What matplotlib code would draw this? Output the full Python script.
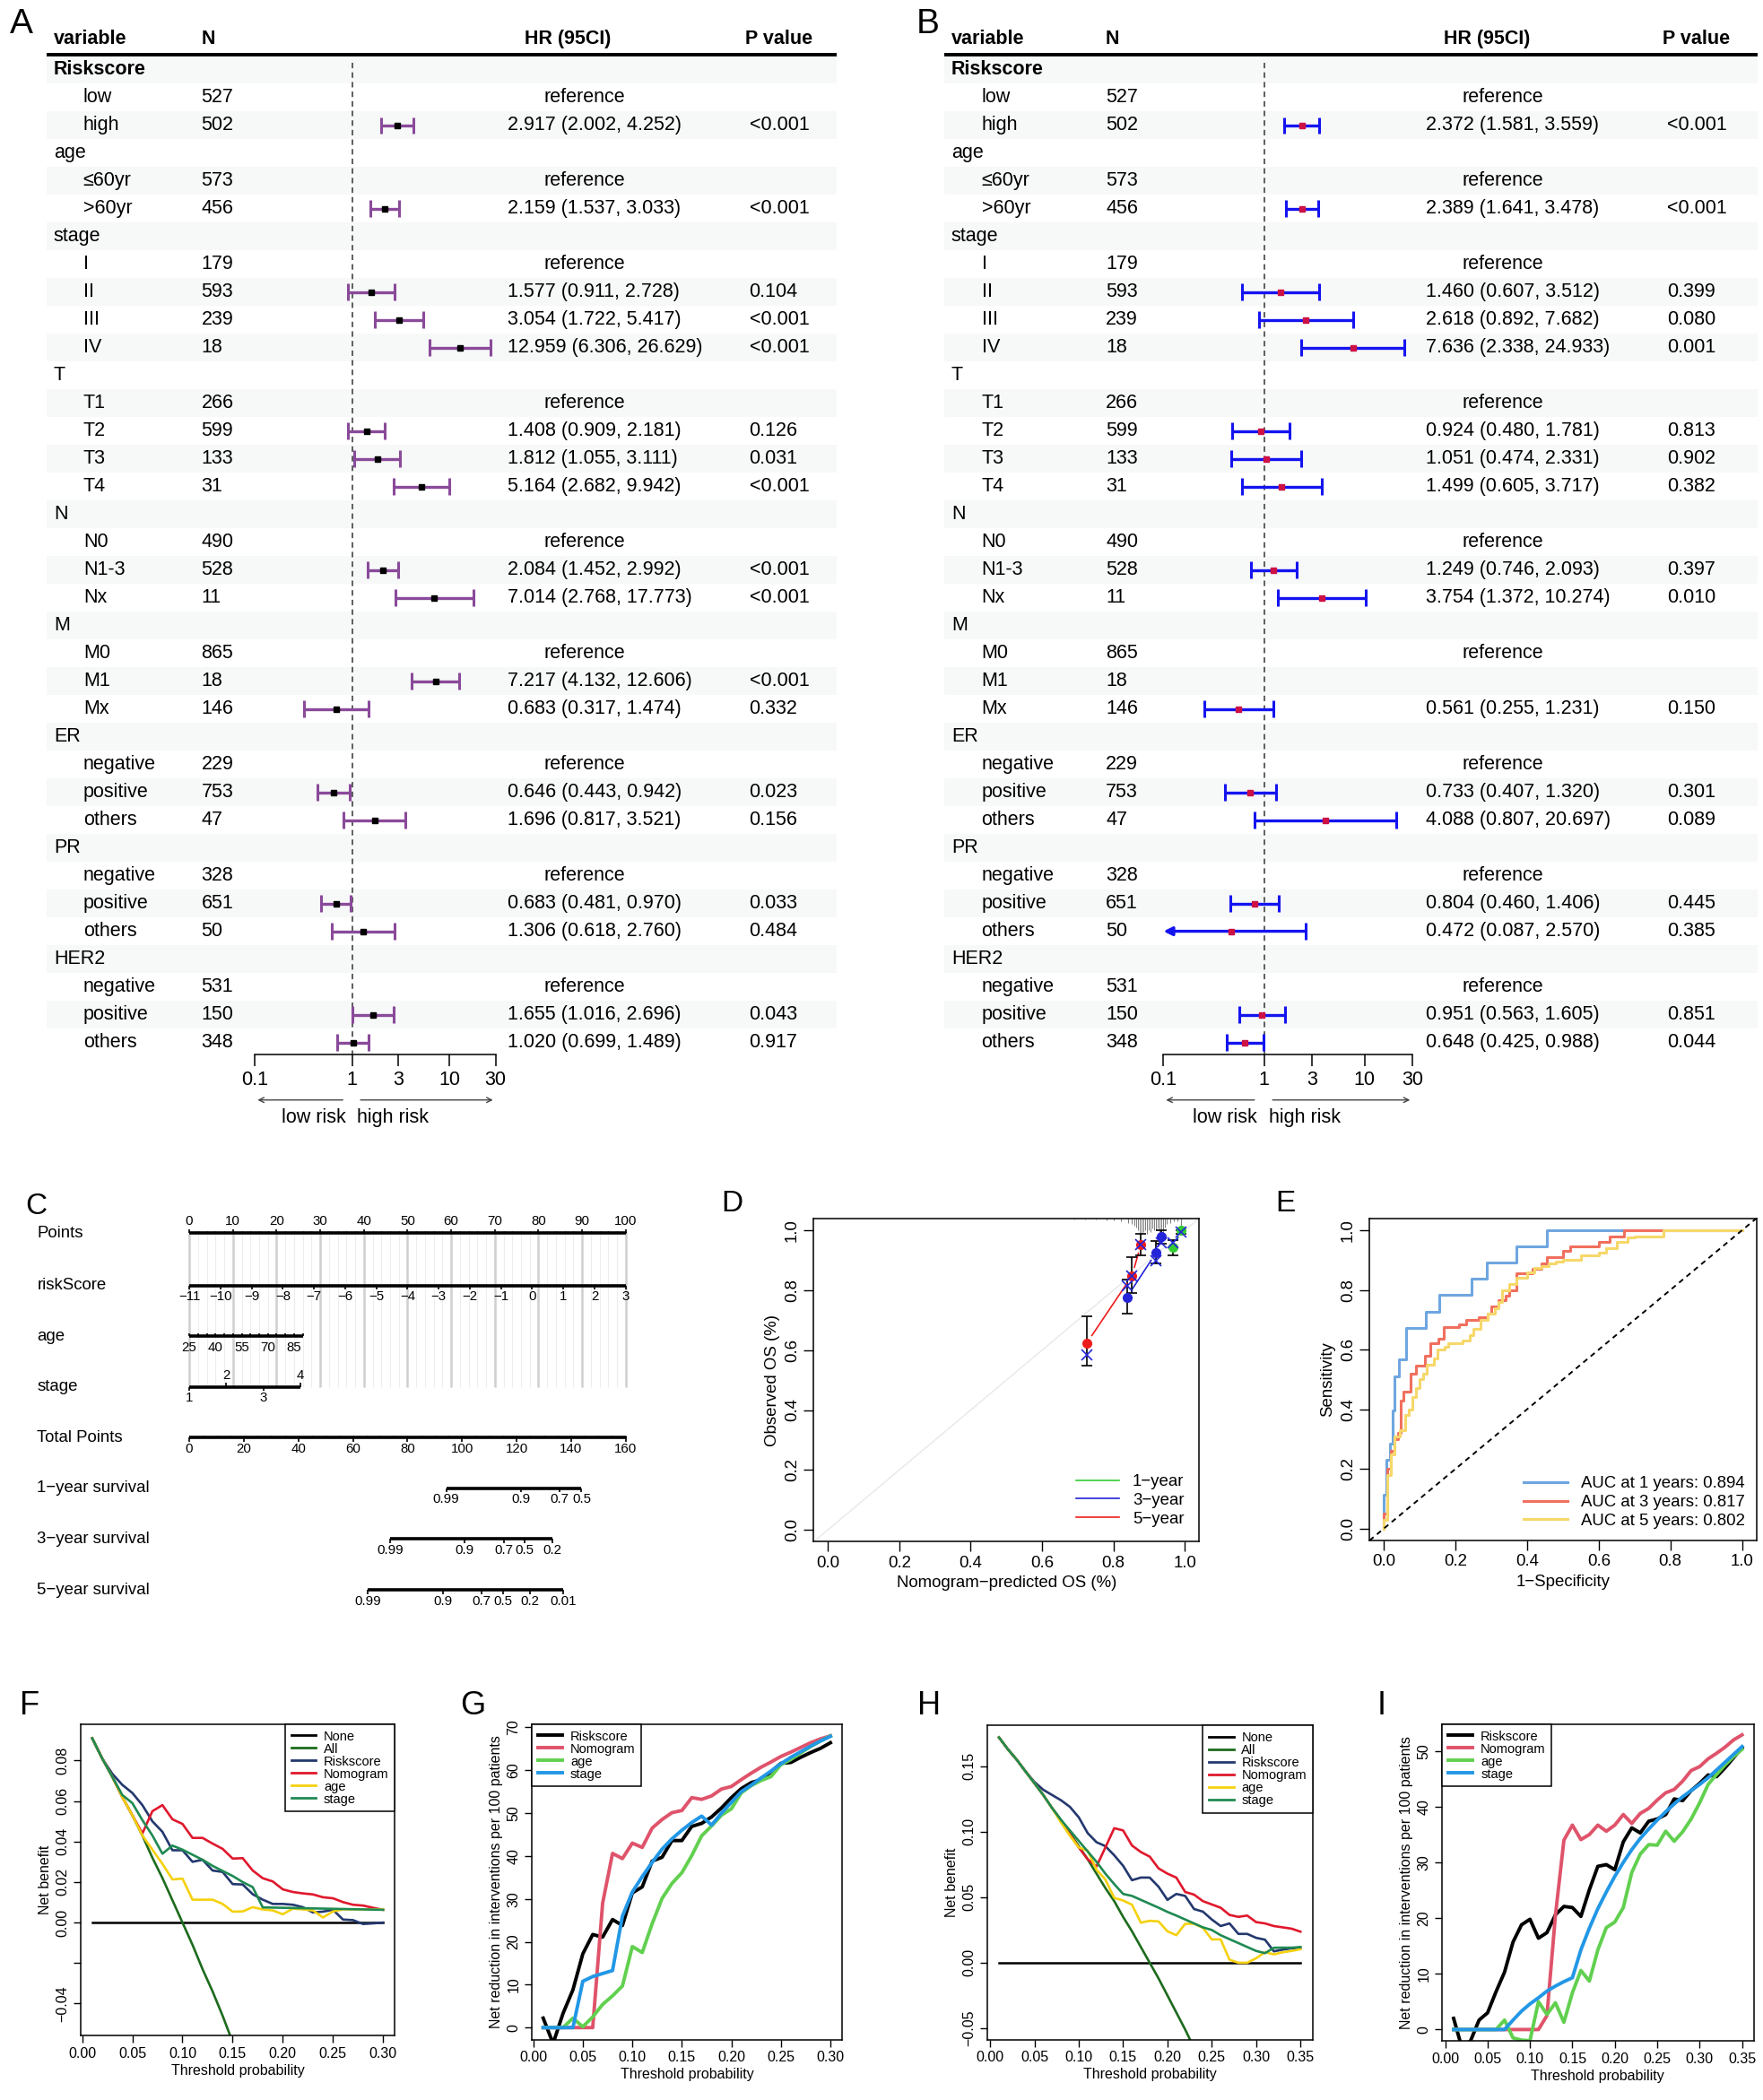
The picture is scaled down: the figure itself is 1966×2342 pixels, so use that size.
import numpy as np
import matplotlib
matplotlib.use("Agg")
import matplotlib.pyplot as plt
from matplotlib import font_manager
from matplotlib.ticker import NullLocator
from matplotlib.transforms import blended_transform_factory
from matplotlib.lines import Line2D

plt.rcParams["font.family"] = ["Liberation Sans", "DejaVu Sans"]
plt.rcParams["axes.unicode_minus"] = True

_names = {f.name for f in font_manager.fontManager.ttflist}
NARROW = "Liberation Sans Narrow" if "Liberation Sans Narrow" in _names else "Liberation Sans"

# ---------------- forest tables (A, B) ----------------
row_names = ["Riskscore", "low", "high", "age", "≤60yr", ">60yr", "stage", "I", "II", "III", "IV",
             "T", "T1", "T2", "T3", "T4", "N", "N0", "N1-3", "Nx", "M", "M0", "M1", "Mx",
             "ER", "negative", "positive", "others", "PR", "negative", "positive", "others",
             "HER2", "negative", "positive", "others"]
group_rows = [0, 3, 6, 11, 16, 20, 24, 28, 32]
ref_rows = [1, 4, 7, 12, 17, 21, 25, 29, 33]
n_patients = ["", "527", "502", "", "573", "456", "", "179", "593", "239", "18",
              "", "266", "599", "133", "31", "", "490", "528", "11", "", "865", "18", "146",
              "", "229", "753", "47", "", "328", "651", "50", "", "531", "150", "348"]
value_rows = [2, 5, 8, 9, 10, 13, 14, 15, 18, 19, 22, 23, 26, 27, 30, 31, 34, 35]

hr_a = [2.917, 2.159, 1.577, 3.054, 12.959, 1.408, 1.812, 5.164, 2.084, 7.014, 7.217, 0.683,
        0.646, 1.696, 0.683, 1.306, 1.655, 1.020]
lo_a = [2.002, 1.537, 0.911, 1.722, 6.306, 0.909, 1.055, 2.682, 1.452, 2.768, 4.132, 0.317,
        0.443, 0.817, 0.481, 0.618, 1.016, 0.699]
hi_a = [4.252, 3.033, 2.728, 5.417, 26.629, 2.181, 3.111, 9.942, 2.992, 17.773, 12.606, 1.474,
        0.942, 3.521, 0.970, 2.760, 2.696, 1.489]
p_a = ["<0.001", "<0.001", "0.104", "<0.001", "<0.001", "0.126", "0.031", "<0.001", "<0.001",
       "<0.001", "<0.001", "0.332", "0.023", "0.156", "0.033", "0.484", "0.043", "0.917"]

hr_b = [2.372, 2.389, 1.460, 2.618, 7.636, 0.924, 1.051, 1.499, 1.249, 3.754, np.nan, 0.561,
        0.733, 4.088, 0.804, 0.472, 0.951, 0.648]
lo_b = [1.581, 1.641, 0.607, 0.892, 2.338, 0.480, 0.474, 0.605, 0.746, 1.372, np.nan, 0.255,
        0.407, 0.807, 0.460, 0.087, 0.563, 0.425]
hi_b = [3.559, 3.478, 3.512, 7.682, 24.933, 1.781, 2.331, 3.717, 2.093, 10.274, np.nan, 1.231,
        1.320, 20.697, 1.406, 2.570, 1.605, 0.988]
p_b = ["<0.001", "<0.001", "0.399", "0.080", "0.001", "0.813", "0.902", "0.382", "0.397",
       "0.010", "", "0.150", "0.301", "0.089", "0.445", "0.385", "0.851", "0.044"]

forest_ticks = [0.1, 1, 3, 10, 30]

# ---------------- nomogram (C) ----------------
points_ticks = list(range(0, 101, 10))
risk_ticks = list(range(-11, 4))
age_ticks = [25, 40, 55, 70, 85]
age_minor = list(range(25, 91, 5))
age_max_points = 26.0
stage_levels = ["1", "2", "3", "4"]
stage_points = [0.0, 8.5, 17.0, 25.5]
total_ticks = list(range(0, 161, 20))
surv_names = ["1\u2212year survival", "3\u2212year survival", "5\u2212year survival"]
surv_labels = [["0.99", "0.9", "0.7", "0.5"],
               ["0.99", "0.9", "0.7", "0.5", "0.2"],
               ["0.99", "0.9", "0.7", "0.5", "0.2", "0.01"]]
surv_total = [[94.2, 121.5, 135.7, 143.8],
              [73.6, 101.0, 115.3, 123.0, 133.2],
              [65.4, 93.1, 107.2, 114.9, 125.0, 137.2]]

# ---------------- calibration (D) ----------------
cal_names = ["1\u2212year", "3\u2212year", "5\u2212year"]
cal_colors = ["#33cc33", "#2424d8", "#ee1c1c"]
cal_pred = [[0.968, 0.990], [0.838, 0.920, 0.934], [0.725, 0.852, 0.877]]
cal_obs = [[0.945, 1.000], [0.777, 0.926, 0.980], [0.623, 0.848, 0.953]]
cal_lo = [[0.918, 0.990], [0.721, 0.889, 0.955], [0.547, 0.790, 0.918]]
cal_hi = [[0.968, 1.000], [0.835, 0.965, 1.000], [0.713, 0.910, 0.990]]
cal_corr = [[0.960, 0.995], [0.814, 0.900, 0.960], [0.585, 0.848, 0.953]]
rug_x = [0.69, 0.72, 0.75, 0.78, 0.80, 0.82, 0.84, 0.85, 0.86, 0.865, 0.87, 0.875, 0.88, 0.885,
         0.89, 0.895, 0.90, 0.905, 0.91, 0.915, 0.92, 0.925, 0.93, 0.935, 0.94, 0.945, 0.95,
         0.96, 0.97, 0.98, 0.99]
rug_len = [0.004, 0.005, 0.005, 0.006, 0.008, 0.010, 0.015, 0.020, 0.025, 0.030, 0.040, 0.048,
           0.050, 0.045, 0.040, 0.050, 0.040, 0.045, 0.035, 0.040, 0.040, 0.035, 0.060, 0.045,
           0.050, 0.030, 0.020, 0.015, 0.010, 0.010, 0.030]

# ---------------- ROC (E) ----------------
roc_labels = ["AUC at 1 years: 0.894", "AUC at 3 years: 0.817", "AUC at 5 years: 0.802"]
roc_colors = ["#6fa6e0", "#f0705e", "#f6d86a"]
fpr_1 = [0, 0, 0.006, 0.006, 0.017, 0.017, 0.025, 0.025, 0.030, 0.030, 0.042, 0.042, 0.061, 0.061,
         0.117, 0.117, 0.154, 0.154, 0.244, 0.244, 0.287, 0.287, 0.370, 0.370, 0.456, 0.456, 1.0]
tpr_1 = [0, 0.113, 0.113, 0.231, 0.231, 0.284, 0.284, 0.397, 0.397, 0.510, 0.510, 0.566, 0.566,
         0.672, 0.672, 0.726, 0.726, 0.783, 0.783, 0.837, 0.837, 0.893, 0.893, 0.947, 0.947, 1.0, 1.0]
fpr_3 = [0, 0.010, 0.020, 0.030, 0.040, 0.047, 0.054, 0.074, 0.090, 0.114, 0.130, 0.153, 0.168,
         0.187, 0.210, 0.230, 0.265, 0.290, 0.300, 0.320, 0.340, 0.350, 0.370, 0.395, 0.415, 0.440,
         0.455, 0.475, 0.500, 0.520, 0.540, 0.600, 0.630, 0.670, 0.690, 0.770, 1.0]
tpr_3 = [0, 0.050, 0.200, 0.260, 0.300, 0.320, 0.430, 0.460, 0.520, 0.545, 0.580, 0.620, 0.635,
         0.675, 0.675, 0.686, 0.700, 0.710, 0.720, 0.745, 0.765, 0.780, 0.800, 0.855, 0.855, 0.870,
         0.890, 0.910, 0.910, 0.930, 0.946, 0.946, 0.960, 0.980, 1.0, 1.0, 1.0]
fpr_5 = [0, 0.010, 0.020, 0.030, 0.045, 0.060, 0.070, 0.080, 0.090, 0.100, 0.110, 0.120, 0.140,
         0.150, 0.170, 0.180, 0.220, 0.240, 0.250, 0.270, 0.290, 0.310, 0.320, 0.330, 0.350, 0.370,
         0.400, 0.420, 0.440, 0.460, 0.480, 0.500, 0.550, 0.600, 0.620, 0.650, 0.680, 0.700, 0.780,
         0.780, 1.0]
tpr_5 = [0, 0.030, 0.180, 0.250, 0.310, 0.330, 0.380, 0.400, 0.440, 0.470, 0.500, 0.520, 0.550,
         0.570, 0.600, 0.610, 0.620, 0.630, 0.650, 0.670, 0.700, 0.720, 0.740, 0.760, 0.800, 0.820,
         0.840, 0.860, 0.875, 0.880, 0.890, 0.895, 0.900, 0.915, 0.925, 0.940, 0.960, 0.975, 0.980,
         1.0, 1.0]

# ---------------- decision curves (F, H) ----------------
dca_names = ["None", "All", "Riskscore", "Nomogram", "age", "stage"]
dca_colors = ["black", "#1d6b1d", "#23386e", "#e0182d", "#f5d10f", "#1f8a52"]
thr_f = np.round(np.arange(0.01, 0.301, 0.01), 2)
f_all = [0.091, 0.081, 0.072, 0.062, 0.053, 0.043, 0.032, 0.022, 0.011, 0.000, -0.011, -0.023,
         -0.034, -0.046, -0.059]
f_risk = [0.091, 0.081, 0.0735, 0.068, 0.064, 0.058, 0.050, 0.0448, 0.0357, 0.0357, 0.030, 0.031,
          0.0257, 0.025, 0.019, 0.0188, 0.014, 0.0113, 0.0092, 0.0092, 0.0088, 0.0076, 0.005,
          0.0054, 0.0063, 0.0015, 0.0012, -0.0007, -0.0004, 0.0]
f_nomo = [0.091, 0.081, 0.072, 0.062, 0.053, 0.044, 0.055, 0.058, 0.051, 0.0487, 0.0418, 0.0418,
          0.039, 0.0364, 0.0316, 0.0318, 0.0257, 0.0219, 0.0203, 0.0164, 0.0151, 0.0144, 0.0139,
          0.0125, 0.012, 0.0101, 0.0088, 0.0084, 0.0073, 0.0063]
f_age = [0.091, 0.081, 0.072, 0.062, 0.053, 0.043, 0.036, 0.029, 0.0213, 0.0217, 0.0113, 0.0113,
         0.0113, 0.0092, 0.0054, 0.0055, 0.0076, 0.0065, 0.006, 0.0041, 0.0069, 0.0065, 0.006,
         0.0025, 0.0055, 0.0065, 0.0065, 0.0065, 0.0065, 0.0065]
f_stage = [0.091, 0.081, 0.072, 0.063, 0.059, 0.0506, 0.043, 0.034, 0.038, 0.036, 0.0335, 0.031,
           0.028, 0.0255, 0.023, 0.020, 0.0175, 0.0075, 0.0074, 0.0073, 0.0072, 0.0071, 0.0070,
           0.0069, 0.0068, 0.0067, 0.0066, 0.0065, 0.0064, 0.0063]

thr_h = np.round(np.arange(0.01, 0.351, 0.01), 2)
h_all = [0.172, 0.163, 0.155, 0.146, 0.137, 0.128, 0.118, 0.109, 0.099, 0.089, 0.079, 0.068, 0.057,
         0.047, 0.035, 0.024, 0.012, 0.000, -0.012, -0.025, -0.038, -0.051, -0.065]
h_risk = [0.172, 0.163, 0.155, 0.146, 0.138, 0.132, 0.128, 0.124, 0.119, 0.111, 0.099, 0.092,
          0.089, 0.082, 0.074, 0.063, 0.065, 0.065, 0.058, 0.048, 0.0525, 0.051, 0.041, 0.039,
          0.033, 0.028, 0.030, 0.022, 0.022, 0.019, 0.0176, 0.0087, 0.010, 0.011, 0.0114]
h_nomo = [0.172, 0.163, 0.155, 0.146, 0.137, 0.128, 0.118, 0.108, 0.098, 0.088, 0.079, 0.0735,
          0.088, 0.1027, 0.101, 0.0895, 0.0845, 0.081, 0.072, 0.068, 0.065, 0.054, 0.052, 0.047,
          0.0445, 0.042, 0.0365, 0.035, 0.036, 0.031, 0.030, 0.028, 0.027, 0.026, 0.0237]
h_age = [0.172, 0.163, 0.155, 0.146, 0.137, 0.128, 0.118, 0.107, 0.097, 0.088, 0.0856, 0.071,
         0.0635, 0.0495, 0.0475, 0.0443, 0.0306, 0.032, 0.0315, 0.024, 0.021, 0.0297, 0.0297,
         0.0267, 0.0178, 0.0178, 0.0023, 0.0, 0.0, 0.0034, 0.008, 0.0064, 0.008, 0.009, 0.0103]
h_stage = [0.172, 0.163, 0.155, 0.146, 0.137, 0.128, 0.118, 0.109, 0.101, 0.093, 0.085, 0.077,
           0.068, 0.060, 0.0525, 0.051, 0.048, 0.045, 0.042, 0.0388, 0.036, 0.033, 0.030, 0.027,
           0.025, 0.021, 0.018, 0.015, 0.012, 0.009, 0.0073, 0.0114, 0.0115, 0.0115, 0.012]

# ---------------- clinical impact (G, I) ----------------
cic_names = ["Riskscore", "Nomogram", "age", "stage"]
cic_colors = ["black", "#df536b", "#61d04f", "#2297e6"]
g_risk = [2.2, -3.7, 3.3, 8.8, 17.2, 21.7, 21.1, 25.2, 23.8, 31.4, 32.8, 38.8, 39.7, 43.6, 43.6,
          46.9, 47.6, 49.1, 51.2, 53.6, 55.7, 57.1, 57.8, 59.6, 61.6, 61.8, 63.0, 64.1, 65.1, 66.4]
g_nomo = [0, 0, 0, 0, 0, 0, 29.0, 40.6, 39.4, 43.0, 42.0, 46.5, 48.5, 50.1, 50.6, 53.6, 53.2, 54.0,
          55.6, 56.2, 57.8, 59.3, 60.7, 61.9, 63.2, 64.2, 65.3, 66.4, 67.3, 68.0]
g_age = [0, 0, 0, 2.2, 0.2, 2.5, 5.4, 7.4, 9.7, 18.9, 17.5, 24.2, 30.1, 33.6, 36.1, 40.1, 44.7,
         47.0, 49.5, 51.0, 54.7, 56.4, 57.6, 58.5, 61.3, 62.5, 64.0, 65.5, 66.8, 68.0]
g_stage = [0, 0, 0, 0, 10.8, 11.9, 12.6, 13.3, 26.0, 31.6, 35.2, 38.5, 41.6, 44.0, 46.0, 47.8,
           49.3, 47.2, 50.0, 52.5, 55.0, 56.5, 58.2, 59.8, 61.5, 63.0, 64.3, 65.6, 66.8, 67.9]
i_risk = [2.0, -3.4, -2.0, 1.7, 3.0, 6.8, 10.3, 15.7, 18.8, 19.8, 16.4, 17.4, 20.6, 22.1, 21.9,
          20.3, 25.1, 29.3, 29.6, 28.7, 33.7, 36.2, 35.3, 37.4, 37.8, 38.6, 41.4, 41.1, 42.9, 44.2,
          45.7, 45.4, 47.0, 48.8, 50.6]
i_nomo = [0, 0, 0, 0, 0, 0, 0, 0, 0, 0, 0, 2.5, 20.5, 34.0, 36.7, 34.1, 35.0, 36.7, 35.6, 36.7,
          38.6, 37.0, 38.8, 39.7, 41.2, 42.5, 43.1, 44.6, 46.5, 47.2, 48.6, 49.6, 50.7, 52.0, 52.9]
i_age = [0, 0, 0, 0, 0, 0, 1.7, -1.5, -1.9, -2.0, 5.0, 2.7, 4.8, 1.3, 6.6, 10.6, 8.7, 14.3, 18.3,
         19.3, 21.9, 28.2, 31.5, 33.2, 33.1, 35.6, 33.8, 35.5, 37.8, 40.7, 44.0, 45.8, 47.5, 49.0,
         50.3]
i_stage = [0, 0, 0, 0, 0, 0, 0, 1.7, 3.3, 4.6, 5.7, 6.9, 7.8, 8.6, 9.3, 14.3, 18.2, 21.7, 24.7,
           27.5, 30.0, 32.3, 34.3, 36.0, 37.6, 39.1, 40.5, 41.8, 42.9, 44.0, 45.2, 46.6, 48.0, 49.4,
           50.8]

# ---------------- layout helpers ----------------
W, H = 1313.0, 1565.0
fig = plt.figure(figsize=(19.66, 23.42), dpi=100)


def box(x0, y0, x1, y1):
    return fig.add_axes([x0 / W, 1 - y1 / H, (x1 - x0) / W, (y1 - y0) / H])


def letter(x, y, s, size):
    fig.text(x / W, 1 - y / H, s, fontsize=size, ha="center", va="center")


def r_style(ax, xt, xl, yt, yl, size, family, length=7):
    ax.set_xticks(xt, xl)
    ax.set_yticks(yt, yl, rotation=90, va="center")
    ax.tick_params(direction="out", length=length, width=1, labelsize=size,
                   labelfontfamily=family, pad=3)
    for s in ax.spines.values():
        s.set_linewidth(1.1)


# ---------------- A and B ----------------
ROW0, ROWH = 52.0, 20.71
TOP, BOT = 18.9, 786.0
RTOP, RBOT = (TOP - ROW0) / ROWH, (BOT - ROW0) / ROWH
TFS = 15.5


def forest(cfg, hr, lo, hi, pv, line_col, pt_col):
    tab = box(cfg["x0"], TOP, cfg["x1"], BOT)
    tab.set_xlim(cfg["x0"], cfg["x1"])
    tab.set_ylim(RBOT, RTOP)
    tab.axis("off")
    for r in range(0, len(row_names), 2):
        tab.axhspan(r - 0.5, r + 0.5, color="#f7f8f8", lw=0, zorder=0)
    tab.axhline(-0.53, color="black", lw=2.8)
    hy = -1.11
    tab.text(cfg["var"], hy, "variable", fontsize=TFS, fontweight="bold", va="center")
    tab.text(cfg["n"], hy, "N", fontsize=TFS, fontweight="bold", va="center")
    tab.text(cfg["hrh"], hy, "HR (95CI)", fontsize=TFS, fontweight="bold", va="center")
    tab.text(cfg["pvh"], hy, "P value", fontsize=TFS, fontweight="bold", va="center")
    for r, name in enumerate(row_names):
        if r in group_rows:
            tab.text(cfg["var"], r, name, fontsize=TFS, va="center",
                     fontweight="bold" if r == 0 else "normal")
        else:
            tab.text(cfg["sub"], r, name, fontsize=TFS, va="center")
            tab.text(cfg["n"], r, n_patients[r], fontsize=TFS, va="center")
        if r in ref_rows:
            tab.text(cfg["ref"], r, "reference", fontsize=TFS, va="center")
    for r, h, l, u, p in zip(value_rows, hr, lo, hi, pv):
        if np.isnan(h):
            continue
        tab.text(cfg["hr"], r, f"{h:.3f} ({l:.3f}, {u:.3f})", fontsize=TFS, va="center")
        tab.text(cfg["pv"], r, p, fontsize=TFS, va="center")

    fa = box(cfg["f0"], TOP, cfg["f1"], BOT)
    fa.patch.set_alpha(0)
    fa.set_xscale("log")
    fa.set_xlim(forest_ticks[0], forest_ticks[-1])
    fa.set_ylim(RBOT, RTOP)
    for s in ["top", "left", "right"]:
        fa.spines[s].set_visible(False)
    fa.spines["bottom"].set_linewidth(1.1)
    fa.set_yticks([])
    fa.set_xticks(forest_ticks, [str(t) for t in forest_ticks])
    fa.xaxis.set_minor_locator(NullLocator())
    fa.tick_params(axis="x", direction="out", length=9, width=1.1, labelsize=TFS, pad=4)
    fa.vlines(1, -0.25, RBOT, colors="#333333", linestyles=(0, (4, 3)), lw=1.1)
    xmin = forest_ticks[0]
    for r, h, l, u in zip(value_rows, hr, lo, hi):
        if np.isnan(h):
            continue
        if l < xmin:
            fa.annotate("", xy=(xmin, r), xytext=(u, r),
                        arrowprops=dict(arrowstyle="-|>", color=line_col, lw=2.4,
                                        mutation_scale=14, shrinkA=0, shrinkB=0))
            fa.vlines([u], r - 0.3, r + 0.3, colors=line_col, lw=2.2)
        else:
            fa.hlines(r, l, u, colors=line_col, lw=2.4)
            fa.vlines([l, u], r - 0.3, r + 0.3, colors=line_col, lw=2.2)
        fa.plot([h], [r], marker="s", ms=5, color=pt_col, mec=pt_col, zorder=5)
    tr = blended_transform_factory(fa.transData, fa.transAxes)
    fa.annotate("", xy=(0.1, -0.044), xytext=(0.85, -0.044), xycoords=tr, textcoords=tr,
                arrowprops=dict(arrowstyle="->", color="#444444", lw=1))
    fa.annotate("", xy=(30, -0.044), xytext=(1.15, -0.044), xycoords=tr, textcoords=tr,
                arrowprops=dict(arrowstyle="->", color="#444444", lw=1))
    fa.text(0.86, -0.061, "low risk", transform=tr, ha="right", va="center", fontsize=TFS)
    fa.text(1.12, -0.061, "high risk", transform=tr, ha="left", va="center", fontsize=TFS)


cfg_a = dict(x0=35, x1=623, var=40, sub=62, n=150, hr=378, ref=405, hrh=391, pv=558, pvh=555,
             f0=190, f1=369)
cfg_b = dict(x0=703, x1=1309, var=708.5, sub=731, n=823.5, hr=1061.6, ref=1089, hrh=1075,
             pv=1241.5, pvh=1238, f0=866.5, f1=1052)
forest(cfg_a, hr_a, lo_a, hi_a, p_a, "#8a4a9a", "black")
forest(cfg_b, hr_b, lo_b, hi_b, p_b, "#1414f0", "#cc1144")
letter(16, 18, "A", 28)
letter(691, 18, "B", 28)

# ---------------- C nomogram ----------------
PX0, PXS = 141.0, 3.25
nax = box(20, 890, 481, 1205)
nax.set_xlim((20 - PX0) / PXS, (481 - PX0) / PXS)
nax.set_ylim(1205, 890)
nax.axis("off")
lab_x = (27.7 - PX0) / PXS
y_pts, y_risk, y_age, y_stage, y_tot = 919, 958, 996, 1033.5, 1071.5
y_surv = [1109, 1147, 1185]
NFS, NTS = 13.4, 10.8

nax.vlines(np.arange(0, 101, 2), y_pts, 1034, colors="#ededed", lw=0.8, zorder=0)
nax.vlines(points_ticks, y_pts, 1034, colors="#cfcfcf", lw=1.8, zorder=0)


def scale_line(y, p0, p1):
    nax.plot([p0, p1], [y, y], color="black", lw=2.6, solid_capstyle="butt", zorder=3)


for name, y in [("Points", y_pts), ("riskScore", y_risk), ("age", y_age), ("stage", y_stage),
                ("Total Points", y_tot)] + list(zip(surv_names, y_surv)):
    nax.text(lab_x, y, name, fontsize=NFS, va="center", ha="left")

scale_line(y_pts, 0, 100)
nax.vlines(np.arange(0, 101, 2), y_pts - 1.5, y_pts, colors="black", lw=0.9, zorder=3)
nax.vlines(points_ticks, y_pts - 3, y_pts, colors="black", lw=1.2, zorder=3)
for t in points_ticks:
    nax.text(t, y_pts - 4.5, str(t), fontsize=NTS, ha="center", va="bottom")

risk_pts = [(v - risk_ticks[0]) * 100.0 / (risk_ticks[-1] - risk_ticks[0]) for v in risk_ticks]
scale_line(y_risk, risk_pts[0], risk_pts[-1])
nax.vlines(risk_pts, y_risk, y_risk + 3, colors="black", lw=1.2, zorder=3)
for v, p in zip(risk_ticks, risk_pts):
    nax.text(p, y_risk + 3.5, str(v).replace("-", "\u2212"), fontsize=NTS, ha="center", va="top")

age_scale = age_max_points / (age_minor[-1] - age_minor[0])
scale_line(y_age, 0, age_max_points)
nax.vlines([(a - age_minor[0]) * age_scale for a in age_minor], y_age - 2.5, y_age,
           colors="black", lw=1.2, zorder=3)
for a in age_ticks:
    nax.text((a - age_minor[0]) * age_scale, y_age + 3.5, str(a), fontsize=NTS, ha="center",
             va="top")

scale_line(y_stage, stage_points[0], stage_points[-1])
for i, (s, p) in enumerate(zip(stage_levels, stage_points)):
    if i % 2 == 0:
        nax.vlines(p, y_stage, y_stage + 3, colors="black", lw=1.2, zorder=3)
        nax.text(p, y_stage + 3.5, s, fontsize=NTS, ha="center", va="top")
    else:
        nax.vlines(p, y_stage - 3, y_stage, colors="black", lw=1.2, zorder=3)
        nax.text(p, y_stage - 3.5, s, fontsize=NTS, ha="center", va="bottom")

tot_scale = 100.0 / total_ticks[-1]
scale_line(y_tot, 0, 100)
nax.vlines(np.arange(0, 161, 5) * tot_scale, y_tot - 1.5, y_tot, colors="black", lw=0.9, zorder=3)
nax.vlines(np.array(total_ticks) * tot_scale, y_tot, y_tot + 3, colors="black", lw=1.2, zorder=3)
for t in total_ticks:
    nax.text(t * tot_scale, y_tot + 3.5, str(t), fontsize=NTS, ha="center", va="top")

for y, labs, tots in zip(y_surv, surv_labels, surv_total):
    pos = [t * tot_scale for t in tots]
    scale_line(y, pos[0], pos[-1])
    nax.vlines(pos, y, y + 3, colors="black", lw=1.2, zorder=3)
    for l, p in zip(labs, pos):
        nax.text(p, y + 3.5, l, fontsize=NTS, ha="center", va="top")
letter(27, 899, "C", 24)

# ---------------- D calibration ----------------
dax = box(606, 908, 893, 1149)
dax.set_xlim(-0.04, 1.04)
dax.set_ylim(-0.04, 1.04)
dax.plot([-0.04, 1.04], [-0.04, 1.04], color="#e8e8e8", lw=1)
dax.vlines(rug_x, [1.04 - l for l in rug_len], 1.04, colors="#666666", lw=0.6)
for pr, ob, lo_, hi_, co, col in zip(cal_pred, cal_obs, cal_lo, cal_hi, cal_corr, cal_colors):
    pr, ob = np.array(pr), np.array(ob)
    for i in range(len(pr) - 1):
        dx, dy = pr[i + 1] - pr[i], ob[i + 1] - ob[i]
        f = min(0.03 / np.hypot(dx, dy), 0.4)
        dax.plot([pr[i] + f * dx, pr[i + 1] - f * dx], [ob[i] + f * dy, ob[i + 1] - f * dy],
                 color=col, lw=1.2)
    dax.errorbar(pr, ob, yerr=[ob - np.array(lo_), np.array(hi_) - ob], fmt="none",
                 ecolor="black", elinewidth=1.2, capsize=4, capthick=1.2)
    dax.plot(pr, ob, "o", color=col, ms=7, zorder=4)
    dax.plot(pr, co, "x", color="#2424d8", ms=8, mew=1.2, zorder=5)
ticks01 = [0.0, 0.2, 0.4, 0.6, 0.8, 1.0]
r_style(dax, ticks01, [f"{t:.1f}" for t in ticks01], ticks01, [f"{t:.1f}" for t in ticks01],
        13.4, "Liberation Sans", 8)
dax.set_xlabel("Nomogram\u2212predicted OS (%)", fontsize=13.4, labelpad=4)
dax.set_ylabel("Observed OS (%)", fontsize=13.4, labelpad=4)
dax.legend([Line2D([], [], color=c, lw=1.2) for c in cal_colors], cal_names, loc="lower right",
           frameon=False, fontsize=13.4, handlelength=2.6, labelspacing=0.2)
letter(545, 897, "D", 24)

# ---------------- E ROC ----------------
eax = box(1020, 908, 1308, 1148)
eax.set_xlim(-0.04, 1.04)
eax.set_ylim(-0.04, 1.04)
eax.plot(fpr_1, tpr_1, color=roc_colors[0], lw=2.2)
eax.plot(fpr_3, tpr_3, color=roc_colors[1], lw=2.2, drawstyle="steps-pre")
eax.plot(fpr_5, tpr_5, color=roc_colors[2], lw=2.2, drawstyle="steps-pre")
eax.plot([-0.04, 1.04], [-0.04, 1.04], color="black", ls=(0, (3, 2.5)), lw=1.4)
r_style(eax, ticks01, [f"{t:.1f}" for t in ticks01], ticks01, [f"{t:.1f}" for t in ticks01],
        13.4, "Liberation Sans", 8)
eax.set_xlabel("1\u2212Specificity", fontsize=13.4, labelpad=4)
eax.set_ylabel("Sensitivity", fontsize=13.4, labelpad=4)
eax.legend([Line2D([], [], color=c, lw=2.2) for c in roc_colors], roc_labels, loc="lower right",
           frameon=False, fontsize=13.4, handlelength=2.6, labelspacing=0.2, borderaxespad=0.3)
letter(957, 897, "E", 24)


# ---------------- F-I ----------------
def r_lim(lo_, hi_):
    pad = (hi_ - lo_) * 0.04
    return lo_ - pad, hi_ + pad


LEG = {"family": NARROW, "size": 10.5}


def dca_panel(rect, thr, series, ylim, yt, yl, let, letpos):
    ax = box(*rect)
    ax.plot(thr, np.zeros(len(thr)), color=dca_colors[0], lw=1.8)
    for vals, col in zip(series, dca_colors[1:]):
        ax.plot(thr[:len(vals)], vals, color=col, lw=1.9)
    ax.set_xlim(*r_lim(thr[0], thr[-1]))
    ax.set_ylim(*ylim)
    xt = list(np.round(np.arange(0, thr[-1] + 0.001, 0.05), 2))
    r_style(ax, xt, [f"{t:.2f}" for t in xt], yt, yl, 11.5, NARROW, 6)
    ax.set_xlabel("Threshold probability", fontsize=11.5, family=NARROW, labelpad=3)
    ax.set_ylabel("Net benefit", fontsize=11.5, family=NARROW, labelpad=3)
    leg = ax.legend([Line2D([], [], color=c, lw=2) for c in dca_colors], dca_names,
                    loc="upper right", prop=LEG, fancybox=False, edgecolor="black",
                    framealpha=1, borderaxespad=0, labelspacing=0.0, handlelength=1.9,
                    borderpad=0.45, handletextpad=0.6)
    leg.get_frame().set_linewidth(1.1)
    letter(letpos[0], letpos[1], let, 26)


def cic_panel(rect, thr, series, ylim, yt, let, letpos):
    ax = box(*rect)
    for vals, col in zip(series, cic_colors):
        ax.plot(thr, vals, color=col, lw=2.8)
    ax.set_xlim(*r_lim(thr[0], thr[-1]))
    ax.set_ylim(*ylim)
    xt = list(np.round(np.arange(0, thr[-1] + 0.001, 0.05), 2))
    r_style(ax, xt, [f"{t:.2f}" for t in xt], yt, [str(t) for t in yt], 11.5, NARROW, 6)
    ax.set_xlabel("Threshold probability", fontsize=11.5, family=NARROW, labelpad=3)
    ax.set_ylabel("Net reduction in interventions per 100 patients", fontsize=11.5,
                  family=NARROW, labelpad=3)
    leg = ax.legend([Line2D([], [], color=c, lw=2.8) for c in cic_colors], cic_names,
                    loc="upper left", prop=LEG, fancybox=False, edgecolor="black",
                    framealpha=1, borderaxespad=0, labelspacing=0.0, handlelength=1.9,
                    borderpad=0.45, handletextpad=0.6)
    leg.get_frame().set_linewidth(1.1)
    letter(letpos[0], letpos[1], let, 26)


dca_panel((60, 1285, 294, 1517), thr_f, [f_all, f_risk, f_nomo, f_age, f_stage],
          (-0.0558, 0.0979), [-0.04, -0.02, 0.0, 0.02, 0.04, 0.06, 0.08],
          ["\u22120.04", "", "0.00", "0.02", "0.04", "0.06", "0.08"], "F", (22, 1271))
cic_panel((396, 1285, 627, 1520), thr_f, [g_risk, g_nomo, g_age, g_stage], (-2.8, 70.7),
          list(range(0, 71, 10)), "G", (352, 1271))
dca_panel((735, 1286, 977.5, 1520), thr_h, [h_all, h_risk, h_nomo, h_age, h_stage],
          (-0.0587, 0.181), [-0.05, 0.0, 0.05, 0.10, 0.15],
          ["\u22120.05", "0.00", "0.05", "0.10", "0.15"], "H", (692, 1271))
cic_panel((1074, 1285, 1306, 1521), thr_h, [i_risk, i_nomo, i_age, i_stage], (-2.05, 54.8),
          list(range(0, 51, 10)), "I", (1029, 1271))

fig.savefig("out.png", dpi=100)
